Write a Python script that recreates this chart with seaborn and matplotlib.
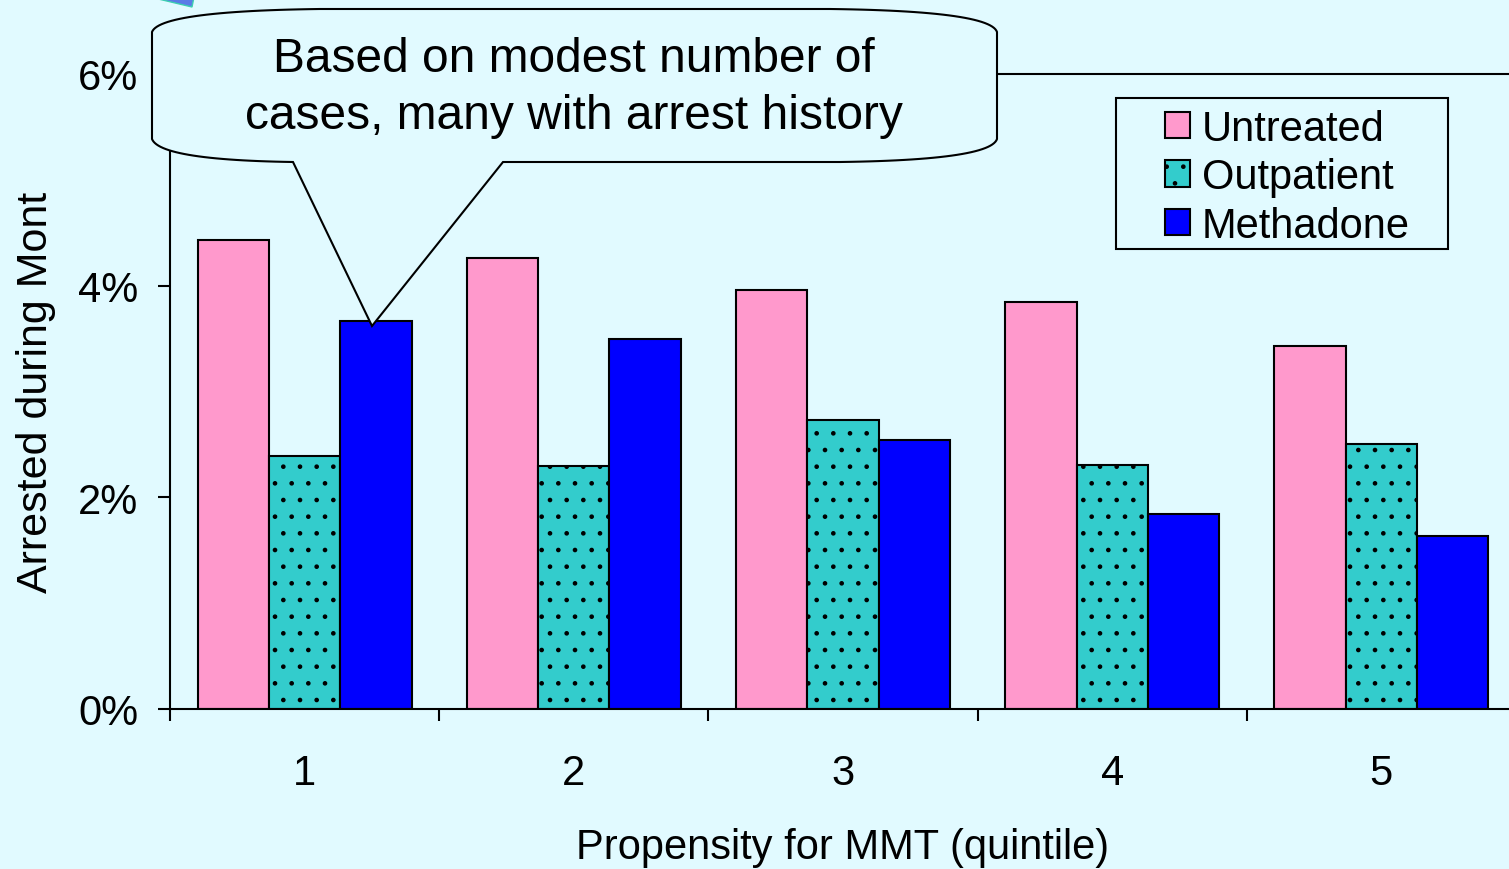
import numpy as np
import pandas as pd
import matplotlib.pyplot as plt
import seaborn as sns
from matplotlib.patches import Polygon, Rectangle, Patch
from matplotlib.ticker import FuncFormatter

# Values (percent arrested during month)
quintiles = ['1', '2', '3', '4', '5']
groups = ['Untreated', 'Outpatient', 'Methadone']
untreated = [4.43, 4.26, 3.96, 3.85, 3.43]
outpatient = [2.39, 2.30, 2.73, 2.31, 2.50]
methadone = [3.67, 3.50, 2.54, 1.84, 1.63]
colors = ['#FF99CC', '#33CCCC', '#0000FF']
hatches = ['', '.', '']

df = pd.DataFrame({
    'quintile': quintiles * 3,
    'group': np.repeat(groups, len(quintiles)),
    'rate': np.array(untreated + outpatient + methadone) / 100,
})

bg = '#E1FAFF'
W, H = 1509, 870

sns.set_style('white')
plt.rcParams['font.family'] = ['Liberation Sans', 'DejaVu Sans']
plt.rcParams['hatch.linewidth'] = 0.9
for k in ['text.color', 'axes.labelcolor', 'xtick.color', 'ytick.color']:
    plt.rcParams[k] = 'black'


def fx(x):
    return x / W


def fy(y):
    return 1 - y / H


fig = plt.figure(figsize=(W / 100, H / 100), dpi=100, facecolor=bg)
ax = fig.add_axes([fx(170), fy(710), (1516 - 170) / W, (710 - 75) / H])
ax.set_facecolor(bg)

sns.barplot(data=df, x='quintile', y='rate', hue='group', palette=colors,
            saturation=1, edgecolor='black', linewidth=1.5, width=0.795,
            errorbar=None, legend=False, ax=ax)

for bar in ax.containers[1]:
    bar.set_hatch('.')

ax.set_xlim(-0.5, 4.5)
ax.set_ylim(0, 0.06)
ax.set_yticks([0, 0.02, 0.04, 0.06])
ax.yaxis.set_major_formatter(FuncFormatter(lambda v, _: f'{v * 100:.0f}%'))
ax.set_xticks(np.arange(-0.5, 5, 1), minor=True)

for s in ax.spines.values():
    s.set_color('black')
    s.set_linewidth(1.5)

ax.tick_params(axis='y', which='major', direction='out', length=8.6, width=1.5,
               pad=14, labelsize=30, left=True)
ax.tick_params(axis='x', which='major', length=0, pad=32, labelsize=30)
ax.tick_params(axis='x', which='minor', direction='out', length=8.6, width=1.5,
               bottom=True)

ax.set_xlabel('Propensity for MMT (quintile)', fontsize=30, labelpad=24)
ax.set_ylabel('Arrested during Mont', fontsize=31, labelpad=16)

# Legend with a plain rectangular frame
frame = Rectangle((fx(1116), fy(250)), (1448 - 1116) / W, (250 - 99) / H,
                  transform=fig.transFigure, facecolor=bg, edgecolor='black',
                  linewidth=1.5, zorder=4)
fig.add_artist(frame)
handles = [Patch(facecolor=c, edgecolor='black', hatch=h, linewidth=1.5)
           for c, h in zip(colors, hatches)]
leg = fig.legend(handles, groups, loc='upper left',
                 bbox_to_anchor=(fx(1144), fy(89)), frameon=False, fontsize=30,
                 handlelength=0.6, handleheight=0.6, handletextpad=0.28,
                 labelspacing=0.2, borderpad=0)
leg.set_zorder(5)


# Callout bubble
def quad(p0, c, p1, n=30):
    t = np.linspace(0, 1, n)[:, None]
    p0, c, p1 = map(np.array, (p0, c, p1))
    return (1 - t) ** 2 * p0 + 2 * (1 - t) * t * c + t ** 2 * p1


outline = np.vstack([
    quad((152, 33), (160, 12), (320, 10)),
    quad((830, 10), (990, 12), (997, 33)),
    [(997, 140)],
    quad((997, 140), (990, 161), (840, 163)),
    [(503, 163), (372, 327), (293, 163)],
    quad((293, 163), (160, 161), (152, 140)),
])
pts = np.column_stack([fx(outline[:, 0]), fy(outline[:, 1])])
bubble = Polygon(pts, closed=True, transform=fig.transFigure, facecolor=bg,
                 edgecolor='black', linewidth=1.5, zorder=10)
fig.add_artist(bubble)
fig.text(fx(574), fy(88), 'Based on modest number of\ncases, many with arrest history',
         ha='center', va='center', fontsize=34.5, linespacing=1.32, zorder=11)

# Bit of slide decoration in the corner
corner = Polygon([(fx(150), fy(-2)), (fx(194), fy(-2)), (fx(192), fy(8))],
                 closed=True, transform=fig.transFigure, facecolor='#5A7BE6',
                 edgecolor='#3CCFB0', linewidth=1, zorder=10)
fig.add_artist(corner)

fig.savefig('out.png', dpi=100, facecolor=bg)
